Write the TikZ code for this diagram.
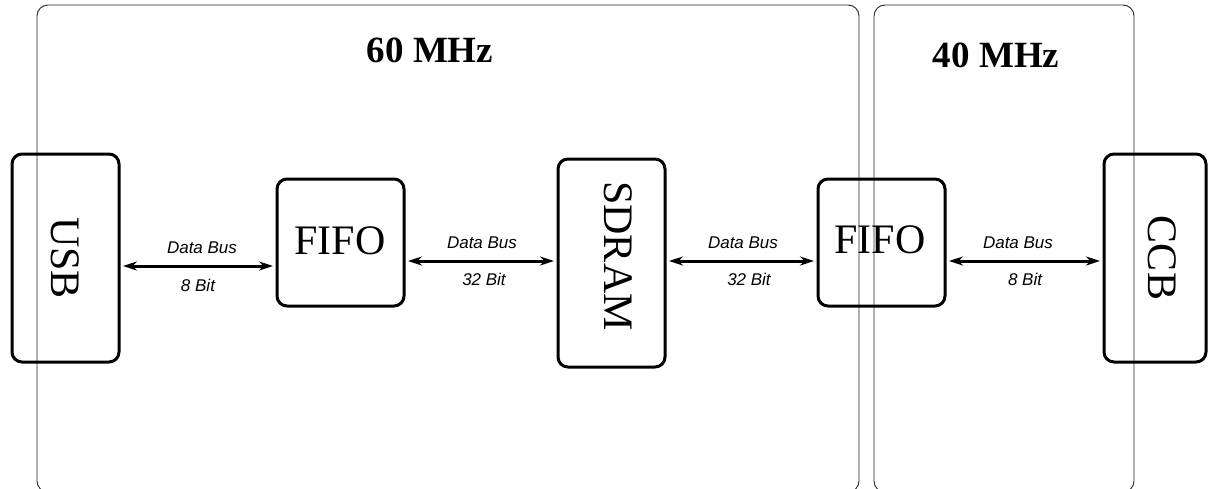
\documentclass[tikz,border=0pt]{standalone}
\usepackage{fontspec}
\setmainfont{Liberation Serif}
\newfontfamily\labelfont{Liberation Sans}
\usetikzlibrary{arrows.meta}
\begin{document}
\begin{tikzpicture}[x=1pt,y=-1pt,
  clockbox/.style={draw=black!85,line width=0.9pt,rounded corners=11pt},
  block/.style={draw=black,line width=3pt,rounded corners=10pt},
  blocktext/.style={font=\fontsize{42}{44}\selectfont},
  freqtext/.style={font=\fontsize{37}{40}\selectfont\bfseries},
  bus/.style={line width=3pt,{Stealth[length=14pt,width=9pt]}-{Stealth[length=14pt,width=9pt]}},
  buslabel/.style={font=\labelfont\itshape\fontsize{17}{19}\selectfont}]
\useasboundingbox (0,0) rectangle (1208,488);
\clip (0,0) rectangle (1208,488);
% clock domains
\draw[clockbox] (37,5) rectangle (859,492);
\draw[clockbox] (874,5) rectangle (1134,492);
\node[freqtext] (f60) at (430,50) {60 MHz};
\node[freqtext] (f40) at (996,55) {40 MHz};
% blocks
\draw[block] (12,154) rectangle (119,362);
\node[blocktext,rotate=-90] (usb) at (65,258) {USB};
\coordinate (usbE) at (119,266);
\draw[block] (277,179) rectangle (404,306);
\node[blocktext] (fifo1) at (340,241) {FIFO};
\coordinate (fifo1W) at (277,266);
\coordinate (fifo1E) at (404,261);
\draw[block] (558,159) rectangle (665,367);
\node[blocktext,rotate=-90] (sdram) at (618,256) {SDRAM};
\coordinate (sdramW) at (558,261);
\coordinate (sdramE) at (665,261);
\draw[block] (818,179) rectangle (945,306);
\node[blocktext] (fifo2) at (880,240) {FIFO};
\coordinate (fifo2W) at (818,261);
\coordinate (fifo2E) at (945,261);
\draw[block] (1104,154) rectangle (1206,362);
\node[blocktext,rotate=-90] (ccb) at (1162,258) {CCB};
\coordinate (ccbW) at (1104,261);
% buses
\draw[bus] ([xshift=4pt]usbE) -- ([xshift=-4pt]fifo1W);
\node[buslabel] (l1a) at (202,248) {Data Bus};
\node[buslabel] (l1b) at (198,285) {8 Bit};
\draw[bus] ([xshift=4pt]fifo1E) -- ([xshift=-4pt]sdramW);
\node[buslabel] (l2a) at (482,243) {Data Bus};
\node[buslabel] (l2b) at (484,279) {32 Bit};
\draw[bus] ([xshift=4pt]sdramE) -- ([xshift=-4pt]fifo2W);
\node[buslabel] (l3a) at (743,243) {Data Bus};
\node[buslabel] (l3b) at (749,279) {32 Bit};
\draw[bus] ([xshift=4pt]fifo2E) -- ([xshift=-4pt]ccbW);
\node[buslabel] (l4a) at (1018,243) {Data Bus};
\node[buslabel] (l4b) at (1025,279) {8 Bit};
\end{tikzpicture}
\end{document}
